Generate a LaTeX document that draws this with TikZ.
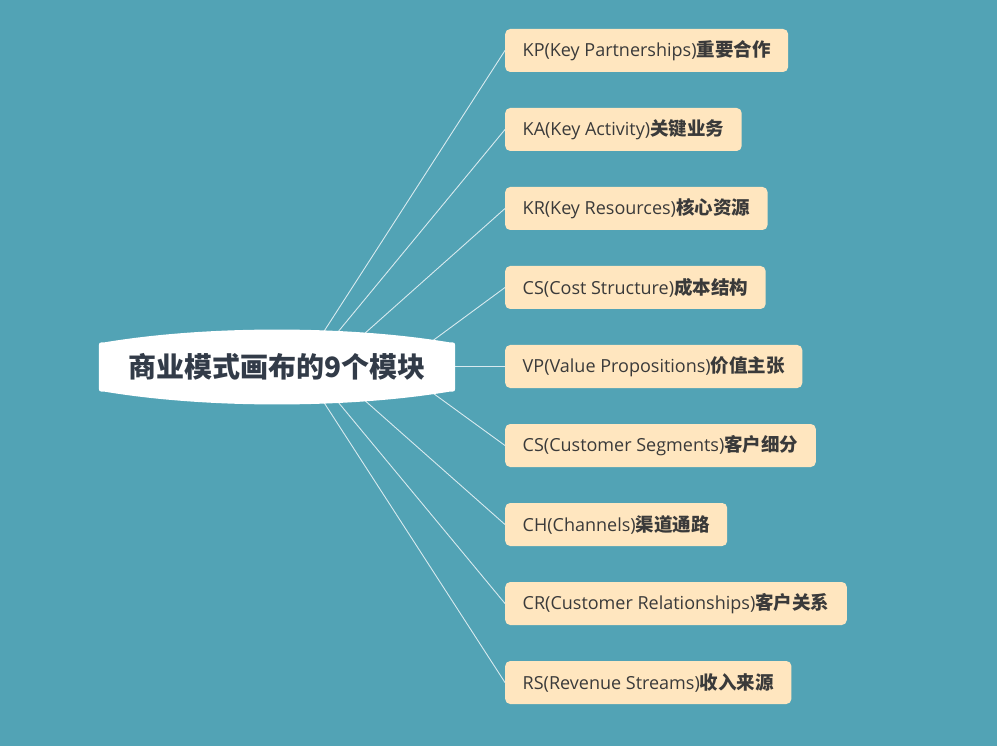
\documentclass[tikz,border=0pt]{standalone}
\usepackage{fontspec}
\setmainfont{Open Sans}
\newfontfamily\cjk{Noto Sans CJK SC}
\usetikzlibrary{positioning,calc}
\definecolor{bgteal}{HTML}{52A3B5}
\definecolor{boxfill}{HTML}{FFE6BF}
\definecolor{inktext}{HTML}{3A3A3A}
\definecolor{hubtext}{HTML}{323B48}
\definecolor{linkline}{HTML}{D8EAEF}

\begin{document}
\begin{tikzpicture}[line cap=round,line join=round
  ,x=1pt,y=-1pt
  ,topic/.style={fill=boxfill,rounded corners=5pt,anchor=west,
    minimum height=43pt,inner xsep=17.5pt,inner ysep=0pt,text=inktext,
    font=\fontsize{18}{20}\selectfont}
  ,link/.style={draw=linkline,line width=0.9pt}]
  \fill[bgteal] (0,0) rectangle (997,746);
  % the nine blocks
  \foreach \n/\y/\en/\zh in {kp/50.5/KP(Key Partnerships)/重要合作,
    ka/129.5/KA(Key Activity)/关键业务,
    kr/208.5/KR(Key Resources)/核心资源,
    cs/287.5/CS(Cost Structure)/成本结构,
    vp/366.5/VP(Value Propositions)/价值主张,
    seg/445.5/CS(Customer Segments)/客户细分,
    ch/524.5/CH(Channels)/渠道通路,
    cr/603.5/CR(Customer Relationships)/客户关系,
    rs/682.5/RS(Revenue Streams)/收入来源}
  \node[topic] (\n) at (505,\y) {\en{\cjk\bfseries\fontsize{18.5}{20}\selectfont\zh}};
  % links from the hub
  \foreach \n/\sx in {kp/301,ka/309,kr/327,cs/397,
    seg/397,ch/327,cr/309,rs/301}{
    \coordinate (s\n) at (\sx,367);
    \draw[link] (s\n) -- (\n.west);}
  \coordinate (svp) at (440,366.5);
  \draw[link] (svp) -- (vp.west);
  % hub
  \node[minimum width=356pt,minimum height=49pt,inner sep=0pt] (hub) at (277,367) {};
  \fill[white] ([yshift=-6pt]hub.north west) -- ([yshift=6pt]hub.south west)
    .. controls (hub.south west) .. ([xshift=6pt]hub.south west)
    .. controls ([xshift=-70pt,yshift=-17pt]hub.south)
    and ([xshift=70pt,yshift=-17pt]hub.south) .. ([xshift=-6pt]hub.south east)
    .. controls (hub.south east) .. ([yshift=6pt]hub.south east)
    -- ([yshift=-6pt]hub.north east)
    .. controls (hub.north east) .. ([xshift=-6pt]hub.north east)
    .. controls ([xshift=70pt,yshift=17pt]hub.north)
    and ([xshift=-70pt,yshift=17pt]hub.north) .. ([xshift=6pt]hub.north west)
    .. controls (hub.north west) .. cycle;
  \node[text=hubtext,font=\cjk\bfseries\fontsize{28}{30}\selectfont] (title) at (hub) {商业模式画布的9个模块};
\end{tikzpicture}
\end{document}
